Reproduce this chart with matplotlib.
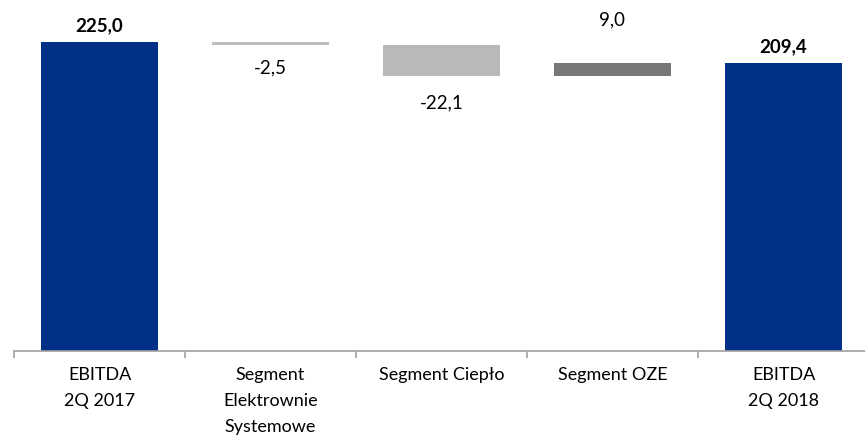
import matplotlib.pyplot as plt
import numpy as np

plt.rcParams['font.family'] = ['Lato', 'DejaVu Sans']

categories = ['EBITDA\n2Q 2017', 'Segment\nElektrownie\nSystemowe', 'Segment Ciepło',
              'Segment OZE', 'EBITDA\n2Q 2018']
start_value = 225.0
deltas = [-2.5, -22.1, 9.0]
end_value = 209.4
labels = ['225,0', '-2,5', '-22,1', '9,0', '209,4']

colors = ['#003087', '#bdbdbd', '#b8b9b8', '#76787a', '#003087']
# label offsets in pixels (positive = above bar top, negative = below bar bottom)
label_offsets = [16, -22, -27, 43, 17]

# build waterfall bottoms/heights
bottoms = [0]
heights = [start_value]
level = start_value
for d in deltas:
    new_level = level + d
    bottoms.append(min(level, new_level))
    heights.append(abs(d))
    level = new_level
bottoms.append(0)
heights.append(end_value)

fig = plt.figure(figsize=(8.65, 4.38), dpi=100)
ax = fig.add_axes([14 / 865, (438 - 350.5) / 438, 855 / 865, 350.5 / 438])

x = np.arange(len(categories))
ax.bar(x, heights, bottom=bottoms, width=0.68, color=colors)

ax.set_xlim(-0.5, len(categories) - 0.5)
ax.set_ylim(0, 255.6)

px = 72 / 100  # points per pixel
for i, (b, h, lab, off) in enumerate(zip(bottoms, heights, labels, label_offsets)):
    bold = i in (0, len(categories) - 1)
    y = b + h if off > 0 else b
    ax.annotate(lab, (x[i], y), xytext=(0, off * px), textcoords='offset points',
                ha='center', va='center', fontsize=13.5,
                fontweight='bold' if bold else 'normal', color='black')

for s in ['top', 'right', 'left']:
    ax.spines[s].set_visible(False)
ax.spines['bottom'].set_color('#a0a0a0')
ax.spines['bottom'].set_linewidth(1.2)
ax.set_yticks([])

ax.set_xticks(x)
ax.set_xticklabels(categories, fontsize=13, linespacing=1.75, va='top')
ax.tick_params(axis='x', which='major', length=0, pad=12)
ax.set_xticks(np.arange(-0.5, len(categories)), minor=True)
ax.tick_params(axis='x', which='minor', length=5, width=1.2, color='#a0a0a0')

fig.savefig('out.png', dpi=100)
